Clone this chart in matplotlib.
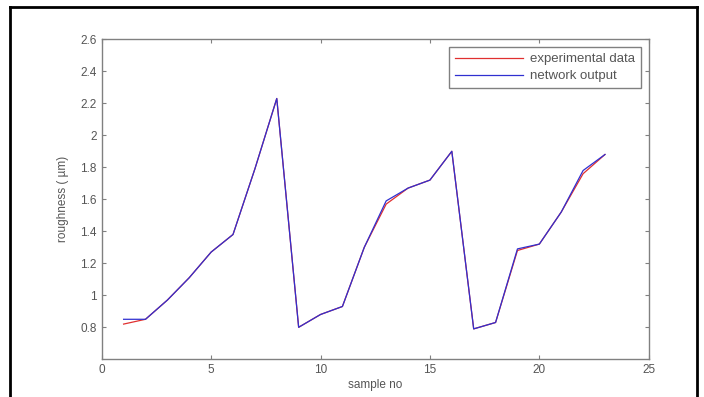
import matplotlib
matplotlib.use("Agg")
import matplotlib.pyplot as plt
from matplotlib.lines import Line2D

# sample numbers and roughness values (um)
sample_no = list(range(1, 24))
experimental = [0.82, 0.85, 0.97, 1.11, 1.27, 1.38, 1.79, 2.23, 0.80, 0.88, 0.93,
                1.30, 1.57, 1.67, 1.72, 1.90, 0.79, 0.83, 1.28, 1.32, 1.52, 1.76, 1.88]
network = [0.85, 0.85, 0.97, 1.11, 1.27, 1.38, 1.79, 2.23, 0.80, 0.88, 0.93,
           1.30, 1.59, 1.67, 1.72, 1.90, 0.79, 0.83, 1.29, 1.32, 1.52, 1.78, 1.88]

x_ticks = [0, 5, 10, 15, 20, 25]
y_ticks = [0.8, 1.0, 1.2, 1.4, 1.6, 1.8, 2.0, 2.2, 2.4, 2.6]
y_tick_labels = ["0.8", "1", "1.2", "1.4", "1.6", "1.8", "2", "2.2", "2.4", "2.6"]

plt.rcParams["font.family"] = ["Liberation Sans", "DejaVu Sans"]
text_color = "#555555"
axis_color = "#808080"

fig = plt.figure(figsize=(7.04, 3.97), dpi=100)
ax = fig.add_axes([0.1445, 0.095, 0.777, 0.806])

ax.plot(sample_no, experimental, color="#e03030", linewidth=0.9, label="experimental data")
ax.plot(sample_no, network, color="#3030d0", linewidth=0.9, label="network output")

ax.set_xlim(0, 25)
ax.set_ylim(0.6, 2.6)
ax.set_xticks(x_ticks)
ax.set_yticks(y_ticks)
ax.set_yticklabels(y_tick_labels)
ax.tick_params(direction="in", top=True, right=True, length=3, width=0.8,
               color=axis_color, labelcolor=text_color, labelsize=8.5)
for spine in ax.spines.values():
    spine.set_color(axis_color)
    spine.set_linewidth(1.0)

ax.set_xlabel("sample no", fontsize=8.5, color=text_color, labelpad=2)
ax.set_ylabel("roughness ( \u00b5m)", fontsize=8.5, color=text_color, labelpad=8)

leg = ax.legend(loc="upper right", fontsize=9.5, frameon=True, fancybox=False,
                handlelength=5.2, handletextpad=0.5, borderpad=0.45,
                labelspacing=0.35, borderaxespad=0.6, labelcolor=text_color)
leg.get_frame().set_edgecolor("#606060")
leg.get_frame().set_linewidth(1.0)

# black frame around the figure (left, top, right)
fig.add_artist(Line2D([10 / 704, 10 / 704], [0, 1 - 7 / 397], color="black", linewidth=2))
fig.add_artist(Line2D([10 / 704, 697 / 704], [1 - 7 / 397, 1 - 7 / 397], color="black", linewidth=2))
fig.add_artist(Line2D([697 / 704, 697 / 704], [0, 1 - 7 / 397], color="black", linewidth=2))

fig.savefig("out.png", dpi=100)
